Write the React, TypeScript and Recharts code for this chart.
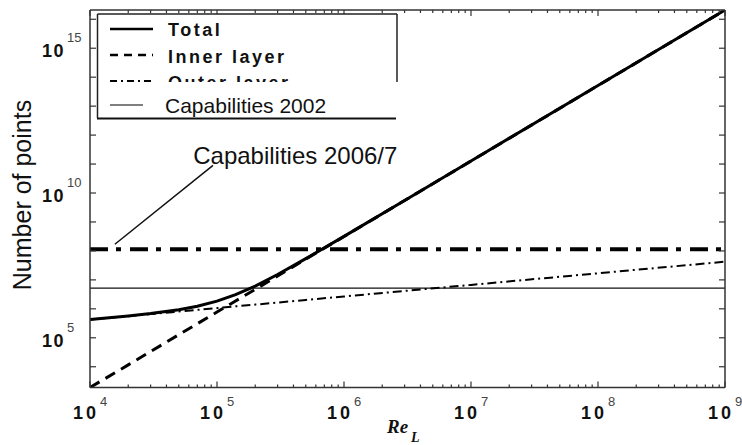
import React from 'react';
import { LineChart, Line, XAxis, YAxis, ReferenceLine, ReferenceDot } from 'recharts';

// Reynolds numbers (x)
const reValues = [1e4, 2e4, 3e4, 5e4, 7e4, 1e5, 1.4e5, 2e5, 3e5, 5e5, 1e6, 3e6, 1e7, 1e8, 1e9];
// Number of points per series
const totalPoints = [4.26e5, 5.7e5, 6.91e5, 9.35e5, 1.23e6, 1.84e6, 3.08e6, 6.1e6, 1.53e7, 5.4e7, 3.17e8, 5.5e9, 1.27e11, 5.14e13, 2.08e16];
const innerLayerPoints = [1.92e3, 1.16e4, 3.36e4, 1.28e5, 3.06e5, 7.76e5, 1.87e6, 4.7e6, 1.36e7, 5.19e7, 3.14e8, 5.5e9, 1.27e11, 5.14e13, 2.08e16];
const outerLayerPoints = [4.24e5, 5.58e5, 6.58e5, 8.07e5, 9.23e5, 1.06e6, 1.22e6, 1.4e6, 1.65e6, 2.03e6, 2.67e6, 4.15e6, 6.71e6, 1.69e7, 4.24e7];

// Horizontal capability levels
const capabilities2002 = 5.2e6;
const capabilities2006 = 1.15e8;

// Annotation
const annotationText = 'Capabilities 2006/7';
const annotationAnchor = { x: 6.5e4, y: 9.8e10 };
const annotationSegment = [
  { x: 1.57e4, y: 1.7e8 },
  { x: 9.3e4, y: 9.0e10 },
];

// Axes
const xDomain = [1e4, 1e9];
const yDomain = [1.92e3, 2.09e16];
const xMajorTicks = [1e4, 1e5, 1e6, 1e7, 1e8, 1e9];
const minorMultipliers = [2, 3, 4, 5, 6, 7, 8, 9];
const yDecadeTicks = [1e4, 1e5, 1e6, 1e7, 1e8, 1e9, 1e10, 1e11, 1e12, 1e13, 1e14, 1e15, 1e16];
const yLabelledTicks = [1e5, 1e10, 1e15];

const legendItems = ['Total', 'Inner layer', 'Outer layer'];
const legendItem2002 = 'Capabilities 2002';
const xTitle = 'Re';
const xTitleSub = 'L';
const yTitle = 'Number of points';

const xAllTicks: number[] = [];
xMajorTicks.forEach((m, i) => {
  xAllTicks.push(m);
  if (i < xMajorTicks.length - 1) minorMultipliers.forEach((k) => xAllTicks.push(m * k));
});

const data = reValues.map((re, i) => ({
  re,
  total: totalPoints[i],
  inner: innerLayerPoints[i],
  outer: outerLayerPoints[i],
}));

const SANS = '"Liberation Sans", Arial, Helvetica, sans-serif';
const SERIF = '"Liberation Serif", "Times New Roman", serif';
const AX = '#333';

const isDecade = (v: number) => {
  const e = Math.log10(v);
  return Math.abs(e - Math.round(e)) < 1e-6;
};

const BottomTick = (props: any) => {
  const { x, y, payload } = props;
  const v = payload.value;
  const major = isDecade(v);
  return (
    <g>
      <line x1={x} x2={x} y1={y} y2={y - (major ? 6 : 3)} stroke={AX} strokeWidth={1.2} />
      {major && (
        <g>
          <text x={x - 17} y={y + 31} fontFamily={SANS} fontWeight="bold" fontSize={18} letterSpacing={3} fill="#111">
            10
          </text>
          <text x={x + 10} y={y + 18} fontFamily={SANS} fontSize={13} fill="#444">
            {Math.round(Math.log10(v))}
          </text>
        </g>
      )}
    </g>
  );
};

const TopTick = (props: any) => {
  const { x, y, payload } = props;
  const major = isDecade(payload.value);
  return <line x1={x} x2={x} y1={y} y2={y + (major ? 6 : 3)} stroke={AX} strokeWidth={1.2} />;
};

const LeftTick = (props: any) => {
  const { x, y, payload } = props;
  const v = payload.value;
  const labelled = yLabelledTicks.some((t) => Math.abs(Math.log10(t) - Math.log10(v)) < 1e-6);
  return (
    <g>
      <line x1={x} x2={x + 6} y1={y} y2={y} stroke={AX} strokeWidth={1.2} />
      {labelled && (
        <g>
          <text x={x - 48} y={y + 9} fontFamily={SANS} fontWeight="bold" fontSize={18} letterSpacing={1.5} fill="#111">
            10
          </text>
          <text x={x - 23} y={y - 6} fontFamily={SANS} fontSize={13} fill="#444">
            {Math.round(Math.log10(v))}
          </text>
        </g>
      )}
    </g>
  );
};

const RightTick = (props: any) => {
  const { x, y } = props;
  return <line x1={x} x2={x - 6} y1={y} y2={y} stroke={AX} strokeWidth={1.2} />;
};

const AnnotationShape = (props: any) => (
  <text x={props.cx} y={props.cy} fontFamily={SANS} fontSize={24} fill="#111">
    {annotationText}
  </text>
);

const axisLineStyle = { stroke: AX, strokeWidth: 1.5 };

export default function App() {
  return (
    <div style={{ position: 'fixed', left: 0, top: 0, width: 742, height: 445, background: '#fff' }}>
      <LineChart width={742} height={445} data={data} margin={{ top: 9, right: 16, bottom: 56.5, left: 89 }}>
        <XAxis
          dataKey="re"
          type="number"
          scale="log"
          domain={xDomain}
          allowDataOverflow
          ticks={xAllTicks}
          interval={0}
          height={1}
          tickSize={0}
          tickMargin={0}
          tickLine={false}
          tick={(p: any) => <BottomTick {...p} />}
          axisLine={axisLineStyle}
        />
        <XAxis
          xAxisId="top"
          orientation="top"
          dataKey="re"
          type="number"
          scale="log"
          domain={xDomain}
          allowDataOverflow
          ticks={xAllTicks}
          interval={0}
          height={1}
          tickSize={0}
          tickMargin={0}
          tickLine={false}
          tick={(p: any) => <TopTick {...p} />}
          axisLine={axisLineStyle}
        />
        <YAxis
          type="number"
          scale="log"
          domain={yDomain}
          allowDataOverflow
          ticks={yDecadeTicks}
          interval={0}
          width={1}
          tickSize={0}
          tickMargin={0}
          tickLine={false}
          tick={(p: any) => <LeftTick {...p} />}
          axisLine={axisLineStyle}
        />
        <YAxis
          yAxisId="right"
          orientation="right"
          type="number"
          scale="log"
          domain={yDomain}
          allowDataOverflow
          ticks={yDecadeTicks}
          interval={0}
          width={1}
          tickSize={0}
          tickMargin={0}
          tickLine={false}
          tick={(p: any) => <RightTick {...p} />}
          axisLine={axisLineStyle}
        />
        <ReferenceLine y={capabilities2002} stroke="#111" strokeWidth={1.2} />
        <ReferenceLine y={capabilities2006} stroke="#000" strokeWidth={4} strokeDasharray="18 8 5 9" />
        <ReferenceLine segment={annotationSegment} stroke="#111" strokeWidth={1.5} />
        <ReferenceDot x={annotationAnchor.x} y={annotationAnchor.y} r={0} shape={(p: any) => <AnnotationShape {...p} />} />
        <Line dataKey="inner" type="linear" stroke="#000" strokeWidth={3} strokeDasharray="11 7" dot={false} isAnimationActive={false} />
        <Line dataKey="outer" type="linear" stroke="#000" strokeWidth={2} strokeDasharray="9 4 2 4" dot={false} isAnimationActive={false} />
        <Line dataKey="total" type="linear" stroke="#000" strokeWidth={3} dot={false} isAnimationActive={false} />
      </LineChart>
      <svg width={742} height={445} style={{ position: 'absolute', left: 0, top: 0, pointerEvents: 'none' }}>
        <defs>
          <clipPath id="legendClip">
            <rect x={0} y={0} width={742} height={82} />
          </clipPath>
        </defs>
        <rect x={97} y={14} width={300} height={104} fill="#fff" />
        <g clipPath="url(#legendClip)">
          <line x1={110} x2={153} y1={29} y2={29} stroke="#000" strokeWidth={2.5} />
          <line x1={110} x2={153} y1={55} y2={55} stroke="#000" strokeWidth={2.5} strokeDasharray="8 6" />
          <line x1={110} x2={155} y1={81} y2={81} stroke="#000" strokeWidth={2} strokeDasharray="7 4 2 4" />
          {legendItems.map((t, i) => (
            <text key={t} x={168} y={36 + i * 26.5} fontFamily={SANS} fontWeight="bold" fontSize={18} letterSpacing={2.5} fill="#111">
              {t}
            </text>
          ))}
        </g>
        <line x1={97.5} x2={397} y1={14} y2={14} stroke="#222" strokeWidth={1.5} />
        <line x1={97.5} x2={97.5} y1={14} y2={118} stroke="#222" strokeWidth={1.5} />
        <line x1={397} x2={397} y1={14} y2={82} stroke="#222" strokeWidth={1.5} />
        <line x1={97} x2={396} y1={118.5} y2={118.5} stroke="#111" strokeWidth={2} />
        <line x1={110} x2={143} y1={105} y2={105} stroke="#000" strokeWidth={1.2} />
        <text x={165} y={113} fontFamily={SANS} fontSize={21} fill="#111">
          {legendItem2002}
        </text>
        <text x={31} y={195} transform="rotate(-90 31 195)" textAnchor="middle" fontFamily={SANS} fontSize={25} fill="#111">
          {yTitle}
        </text>
        <text x={387} y={433} fontFamily={SERIF} fontWeight="bold" fontStyle="italic" fontSize={19} fill="#111">
          {xTitle}
          <tspan fontSize={14} dx={3} dy={9}>
            {xTitleSub}
          </tspan>
        </text>
      </svg>
    </div>
  );
}
